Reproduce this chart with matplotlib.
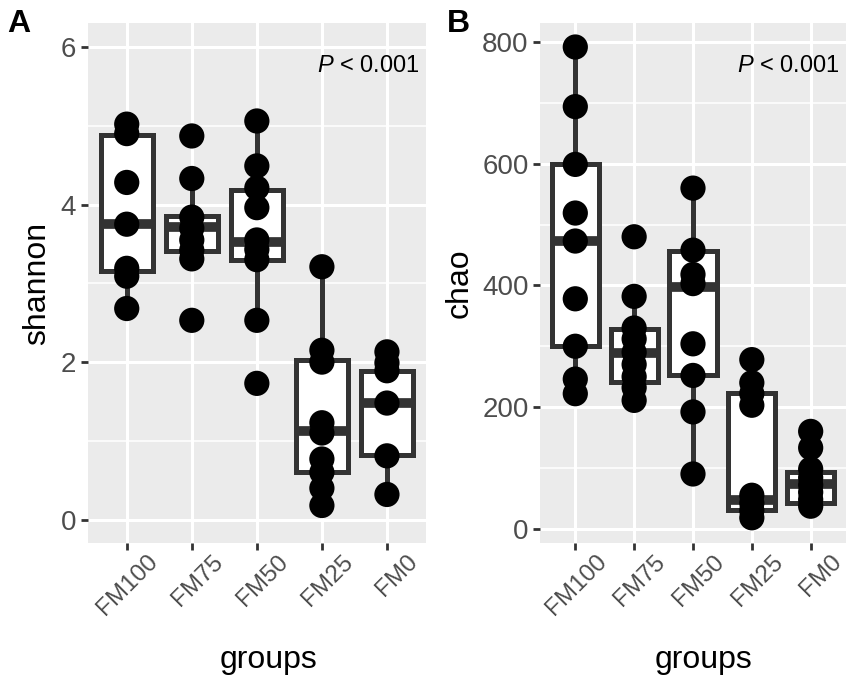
import numpy as np
import matplotlib
matplotlib.use('Agg')
import matplotlib.pyplot as plt
from matplotlib.ticker import MultipleLocator
from matplotlib.transforms import ScaledTranslation

plt.rcParams['font.family'] = ['Liberation Sans', 'DejaVu Sans']
plt.rcParams['mathtext.fontset'] = 'custom'
plt.rcParams['mathtext.rm'] = 'Liberation Sans'
plt.rcParams['mathtext.it'] = 'Liberation Sans:italic'

groups = ['FM100', 'FM75', 'FM50', 'FM25', 'FM0']

# shannon values per group (points)
shannon_pts = {
    'FM100': [5.02, 4.90, 4.28, 3.75, 3.19, 3.09, 2.68],
    'FM75': [4.87, 4.33, 3.84, 3.70, 3.55, 3.42, 3.31, 2.53],
    'FM50': [5.06, 4.49, 4.21, 3.96, 3.55, 3.43, 3.30, 2.53, 1.73],
    'FM25': [3.21, 2.15, 2.00, 1.23, 1.10, 0.77, 0.60, 0.40, 0.18],
    'FM0': [2.13, 1.99, 1.89, 1.48, 0.81, 0.32],
}
# box stats: lower whisker, q1, median, q3, upper whisker
shannon_whislo = [2.68, 3.31, 2.53, 0.18, 0.32]
shannon_q1 = [3.15, 3.41, 3.30, 0.60, 0.82]
shannon_med = [3.75, 3.72, 3.53, 1.12, 1.48]
shannon_q3 = [4.88, 3.86, 4.19, 2.03, 1.89]
shannon_whishi = [5.02, 4.33, 5.06, 3.21, 2.13]

chao_pts = {
    'FM100': [792, 694, 599, 519, 473, 378, 300, 246, 222],
    'FM75': [480, 382, 330, 312, 290, 270, 250, 232, 211],
    'FM50': [560, 458, 418, 403, 304, 252, 192, 90],
    'FM25': [278, 240, 222, 203, 55, 42, 30, 18],
    'FM0': [160, 133, 98, 84, 72, 60, 48, 37],
}
chao_whislo = [222, 211, 90, 18, 37]
chao_q1 = [300, 242, 253, 30, 42]
chao_med = [473, 289, 398, 48, 73]
chao_q3 = [600, 329, 457, 223, 94]
chao_whishi = [792, 382, 560, 278, 160]

box_col = '#333333'


def draw_panel(fig, ax, pts, whislo, q1, med, q3, whishi, ylab, ylim, ymaj, ymin):
    pos = np.arange(1, len(groups) + 1)
    stats = []
    for i, g in enumerate(groups):
        stats.append(dict(whislo=whislo[i], q1=q1[i], med=med[i], q3=q3[i],
                          whishi=whishi[i], label=g))
    ax.bxp(stats, positions=pos, widths=0.8, patch_artist=True,
           showfliers=False, showcaps=False,
           boxprops=dict(facecolor='white', edgecolor=box_col, linewidth=3.6),
           whiskerprops=dict(color=box_col, linewidth=3.6, solid_capstyle='butt'),
           medianprops=dict(color=box_col, linewidth=7, solid_capstyle='butt'),
           zorder=2)
    for i, g in enumerate(groups):
        ax.scatter(np.full(len(pts[g]), pos[i]), pts[g], s=330, color='black',
                   edgecolor='none', zorder=3)

    ax.set_facecolor('#EBEBEB')
    for s in ax.spines.values():
        s.set_visible(False)
    ax.set_axisbelow(True)
    ax.yaxis.set_major_locator(MultipleLocator(ymaj))
    ax.yaxis.set_minor_locator(MultipleLocator(ymin))
    ax.grid(which='major', color='white', linewidth=2.2)
    ax.grid(which='minor', axis='y', color='white', linewidth=1.1)
    ax.set_xlim(0.4, 5.6)
    ax.set_ylim(*ylim)
    ax.set_xticks(pos)
    ax.set_xticklabels(groups, rotation=45, ha='right', va='top',
                       rotation_mode='anchor')
    ax.tick_params(which='major', length=4.7, width=2, color=box_col,
                   labelcolor='#4D4D4D', pad=3.5)
    ax.tick_params(axis='x', labelsize=17.5)
    ax.tick_params(axis='y', labelsize=20)
    ax.tick_params(which='minor', length=0)
    ax.set_xlabel('groups', fontsize=23)
    ax.set_ylabel(ylab, fontsize=23)
    ax.text(5.5, ylim[0] + (ylim[1] - ylim[0]) * 0.917, r'$\it{P}$ < 0.001',
            ha='right', va='center', fontsize=17, color='black')


fig = plt.figure(figsize=(8.54, 6.75), dpi=100)
axA = fig.add_axes([0.1027, 0.1951, 0.3961, 0.7704])
axB = fig.add_axes([0.6323, 0.1951, 0.3583, 0.7704])

draw_panel(fig, axA, shannon_pts, shannon_whislo, shannon_q1, shannon_med, shannon_q3,
           shannon_whishi, 'shannon', (-0.3, 6.3), 2, 1)
draw_panel(fig, axB, chao_pts, chao_whislo, chao_q1, chao_med, chao_q3,
           chao_whishi, 'chao', (-24, 831), 200, 100)

axA.yaxis.set_label_coords(-0.105, 0.5)
axB.yaxis.set_label_coords(-0.215, 0.5)
axA.xaxis.set_label_coords(0.535, -0.195)
axB.xaxis.set_label_coords(0.536, -0.195)

# push the rotated group labels to the right, like ggplot's hjust = 1
shift = ScaledTranslation(20 / 100, 4 / 100, fig.dpi_scale_trans)
for ax in (axA, axB):
    for tick in ax.xaxis.get_major_ticks():
        tick.label1.set_transform(tick.label1.get_transform() + shift)

fig.text(7 / 854, 1 - 24 / 675, 'A', fontsize=23, fontweight='bold', va='center', ha='left')
fig.text(447 / 854, 1 - 24 / 675, 'B', fontsize=23, fontweight='bold', va='center', ha='left')

fig.savefig('out.png', dpi=100)
